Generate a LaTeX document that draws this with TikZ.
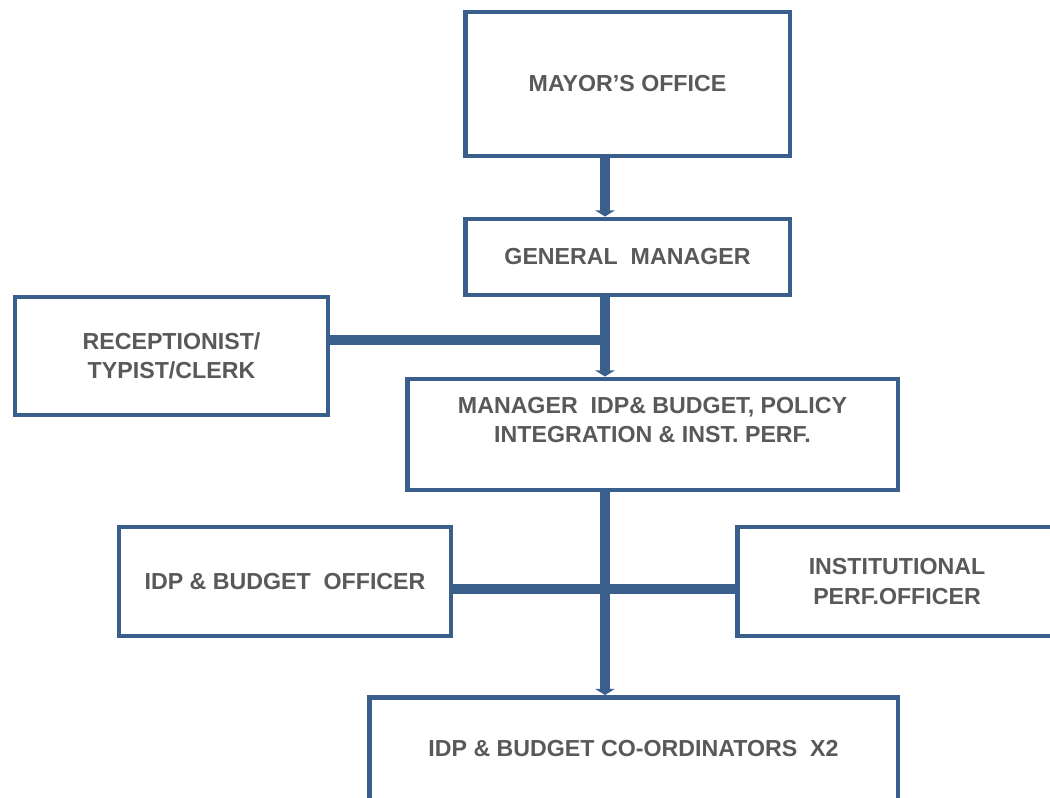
\documentclass[tikz,border=0pt]{standalone}
\usepackage{fontspec}
\setmainfont{Liberation Sans}
\usetikzlibrary{arrows.meta,positioning}
\definecolor{orgblue}{RGB}{59,95,140}
\definecolor{orgtext}{RGB}{89,89,89}

\begin{document}
\begin{tikzpicture}
  [x=0.02cm,y=-0.02cm,
  unit/.style={draw=orgblue,line width=2.8pt,fill=white,inner sep=0pt,
    align=center,text=orgtext,font=\fontsize{13.2}{16.7}\selectfont\bfseries},
  link/.style={draw=orgblue,line width=5.4pt},
  down/.style={link,-{Triangle[width=11pt,length=3.5pt]}}]
  \useasboundingbox (0,0) rectangle (1050,797);
  \coordinate (trunk) at (605,0);
  \coordinate (j1) at (605,340);
  \coordinate (j2) at (605,589);
  \node[unit,minimum width=6.5cm,minimum height=2.88cm] (mayor) at (627.5,84) {MAYOR’S OFFICE};
  \node[unit,minimum width=6.5cm,minimum height=1.52cm] (gm) at (627.5,257) {GENERAL\ \ MANAGER};
  \node[unit,minimum width=6.26cm,minimum height=2.36cm] (recep) at (171.5,356) {RECEPTIONIST/\\TYPIST/CLERK};
  \node[unit,minimum width=9.82cm,minimum height=2.22cm] (mgr) at (652.5,434.5)
    {MANAGER\ \ IDP\& BUDGET, POLICY\\INTEGRATION \& INST. PERF.\\ };
  \node[unit,minimum width=6.64cm,minimum height=2.18cm] (bud) at (285,581.5) {IDP \& BUDGET\ \ OFFICER};
  \node[unit,minimum width=6.4cm,minimum height=2.18cm] (inst) at (897,581.5) {INSTITUTIONAL\\PERF.OFFICER};
  \node[unit,minimum width=10.58cm,minimum height=2.5cm,text height=9.5pt,text depth=13pt]
    (coord) at (633.5,760) {IDP \& BUDGET CO-ORDINATORS\ \ X2};
  \draw[down] (mayor.south -| trunk) -- (gm.north -| trunk);
  \draw[link] (recep.east |- j1) -- (j1);
  \draw[down] (gm.south -| trunk) -- (mgr.north -| trunk);
  \draw[link] (bud.east |- j2) -- (inst.west |- j2);
  \draw[down] (mgr.south -| trunk) -- (coord.north -| trunk);
\end{tikzpicture}
\end{document}
